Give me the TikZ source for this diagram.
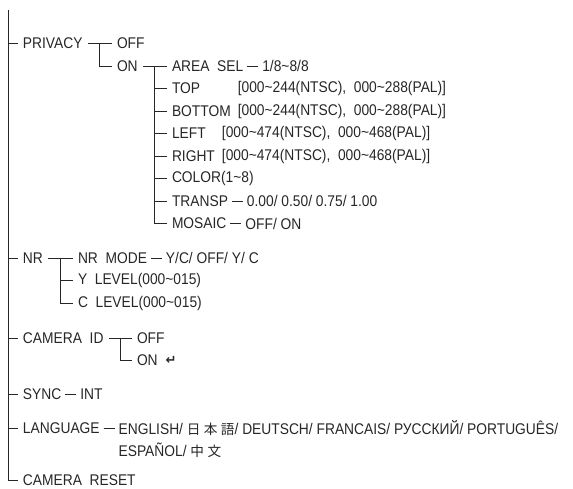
\documentclass[tikz,border=0pt]{standalone}
\usepackage{fontspec}
\setmainfont{Liberation Sans}[FakeStretch=0.89]
\newfontfamily\cjkfont{Noto Sans CJK JP}[Scale=0.88, LetterSpace=25]
\newfontfamily\symfont{DejaVu Sans}
\usetikzlibrary{positioning,calc}
\definecolor{ink}{gray}{0.15}
\tikzset{
  item/.style={anchor=west, inner sep=1pt, outer sep=4.5pt, text=ink,
    font=\fontsize{15.5}{17}\selectfont},
  value/.style={item, right=8pt of #1},
  valdash/.style={shorten <=-1.5pt, shorten >=-1.5pt}
}
\begin{document}
\begin{tikzpicture}[x=1pt, y=-1pt, line width=0.7pt, draw=ink]
    \useasboundingbox (0,0) rectangle (573,489);
    \coordinate (root) at (8,10);
    % first level
    \node[item] (privacy) at (17.5,43) {PRIVACY};
    \node[item] (nr) at (17.5,258) {NR};
    \node[item] (camid) at (17.5,338) {CAMERA\ \ ID};
    \node[item] (sync) at (17.5,394) {SYNC};
    \node[item] (language) at (17.5,428) {LANGUAGE};
    \node[item] (reset) at (17.5,480) {CAMERA\ \ RESET};
    \draw (root) |- (reset.west);
    \foreach \n in {privacy, nr, camid, sync, language} \draw (root |- \n.west) -- (\n.west);
    % privacy
    \node[item] (privoff) at (111.5,43) {OFF};
    \node[item] (privon) at (111.5,66) {ON};
    \draw (privacy.east) -- (privoff.west);
    \draw ($(privacy.east)!0.5!(privoff.west)$) |- (privon.west);
    \node[item] (areasel) at (166.5,66) {AREA\ \ SEL};
    \node[item] (seltop) at (166.5,88.5) {TOP};
    \node[item] (selbottom) at (166.5,111) {BOTTOM};
    \node[item] (selleft) at (166.5,133.5) {LEFT};
    \node[item] (selright) at (166.5,156) {RIGHT};
    \node[item] (color) at (166.5,178.5) {COLOR(1\textasciitilde8)};
    \node[item] (transp) at (166.5,201) {TRANSP};
    \node[item] (mosaic) at (166.5,223.5) {MOSAIC};
    \draw (privon.east) -- (areasel.west);
    \coordinate (onj) at ($(privon.east)!0.5!(areasel.west)$);
    \draw (onj) |- (mosaic.west);
    \foreach \n in {seltop, selbottom, selleft, selright, color, transp} \draw (onj |- \n.west) -- (\n.west);
    \node[value=areasel] (areaval) {1/8\textasciitilde8/8};
    \draw[valdash] (areasel.east) -- (areaval.west);
    \node[item, right=-4pt of selbottom] (bottomrng) {[000\textasciitilde244(NTSC),\ \ 000\textasciitilde288(PAL)]};
    \node[item] (toprng) at (bottomrng.west |- seltop) {[000\textasciitilde244(NTSC),\ \ 000\textasciitilde288(PAL)]};
    \node[item, right=-4pt of selright] (rightrng) {[000\textasciitilde474(NTSC),\ \ 000\textasciitilde468(PAL)]};
    \node[item] (leftrng) at (rightrng.west |- selleft) {[000\textasciitilde474(NTSC),\ \ 000\textasciitilde468(PAL)]};
    \node[value=transp] (transpval) {0.00/ 0.50/ 0.75/ 1.00};
    \draw[valdash] (transp.east) -- (transpval.west);
    \node[value=mosaic] (mosaicval) {OFF/ ON};
    \draw[valdash] (mosaic.east) -- (mosaicval.west);
    % nr
    \node[item] (nrmode) at (72.5,258) {NR\ \ MODE};
    \node[item] (ylevel) at (72.5,280.5) {Y\ \ LEVEL(000\textasciitilde015)};
    \node[item] (clevel) at (72.5,303) {C\ \ LEVEL(000\textasciitilde015)};
    \draw (nr.east) -- (nrmode.west);
    \coordinate (nrj) at ($(nr.east)!0.5!(nrmode.west)$);
    \draw (nrj) |- (clevel.west);
    \draw (nrj |- ylevel.west) -- (ylevel.west);
    \node[value=nrmode] (nrmodeval) {Y/C/ OFF/ Y/ C};
    \draw[valdash] (nrmode.east) -- (nrmodeval.west);
    % camera id
    \node[item] (idoff) at (131.5,338) {OFF};
    \node[item] (idon) at (131.5,360.5) {ON};
    \draw (camid.east) -- (idoff.west);
    \draw ($(camid.east)!0.5!(idoff.west)$) |- (idon.west);
    \node[item, right=-3pt of idon, font=\symfont\bfseries\fontsize{13}{15}\selectfont] (idret) {↵};
    % sync, language
    \node[value=sync] (syncval) {INT};
    \draw[valdash] (sync.east) -- (syncval.west);
    \node[value=language] (langval) {ENGLISH/ {\cjkfont 日本語}/ DEUTSCH/ FRANCAIS/ РУССКИЙ/ PORTUGUÊS/};
    \draw[valdash] (language.east) -- (langval.west);
    \node[item] (langvalb) at ([yshift=-22.5pt]langval.west) {ESPAÑOL/ {\cjkfont 中文}};
\end{tikzpicture}
\end{document}
